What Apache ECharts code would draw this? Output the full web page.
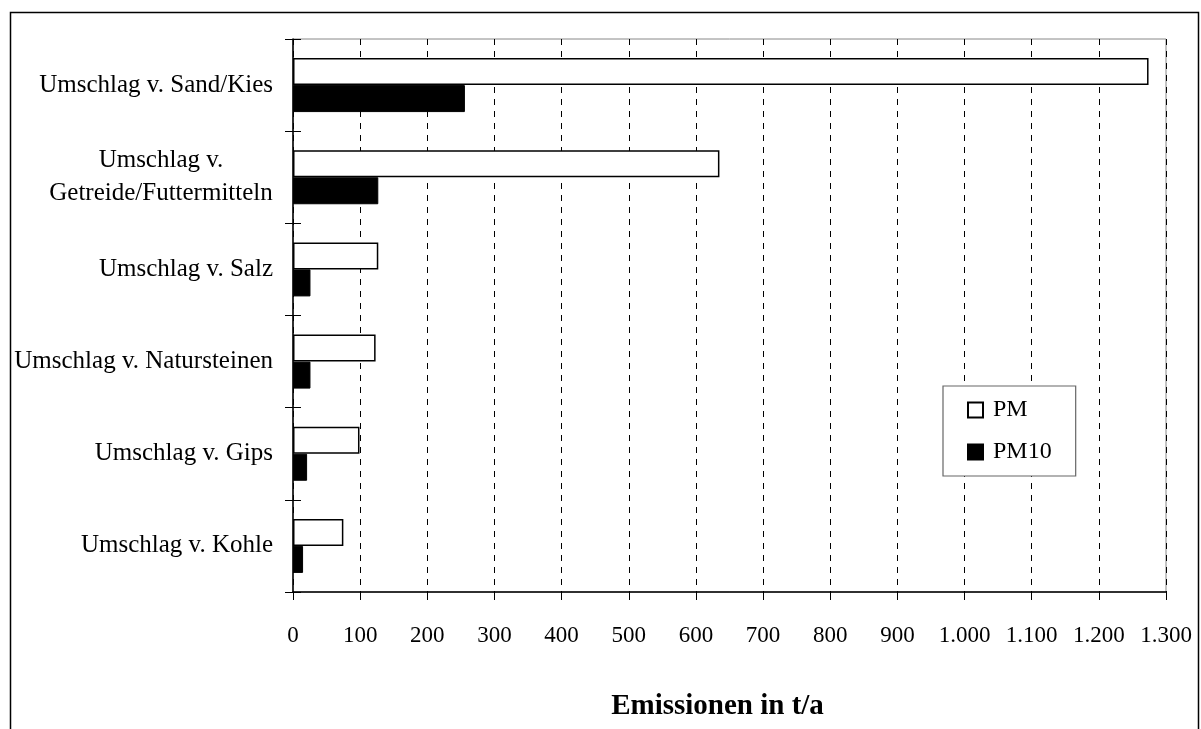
<!DOCTYPE html>
<html>
<head>
<meta charset="utf-8">
<script src="https://cdn.jsdelivr.net/npm/echarts@6/dist/echarts.min.js"></script>
<style>html,body{margin:0;padding:0;background:#fff}#c{width:1201px;height:729px}</style>
</head>
<body>
<div id="c"></div>
<script>
const categories = ['Umschlag v. Sand/Kies', 'Umschlag v.\nGetreide/Futtermitteln', 'Umschlag v. Salz', 'Umschlag v. Natursteinen', 'Umschlag v. Gips', 'Umschlag v. Kohle'];
const seriesNames = ['PM', 'PM10'];
const pmValues = [1274, 635, 127, 123, 99, 75];
const pm10Values = [256, 127, 26, 26, 21, 15];
const xTicks = {min: 0, max: 1300, interval: 100};
const axisTitle = 'Emissionen in t/a';

const FONT = "'Liberation Serif', 'Times New Roman', serif";
function deFmt(v) {
  if (v >= 1000) return Math.floor(v / 1000) + '.' + String(v % 1000).padStart(3, '0');
  return String(v);
}
const chart = echarts.init(document.getElementById('c'), null, {renderer: 'canvas'});
chart.setOption({
  animation: false,
  backgroundColor: '#fff',
  textStyle: {fontFamily: FONT, color: '#000'},
  graphic: [{
    type: 'rect', left: 8, top: 10, z: 100, silent: true,
    shape: {width: 1188, height: 740},
    style: {fill: 'none', stroke: '#000', lineWidth: 1.5}
  }],
  grid: {left: 293, right: 35, top: 39, bottom: 137, show: true, borderColor: '#888', borderWidth: 1, containLabel: false},
  legend: {
    orient: 'vertical', left: 943, top: 386,
    data: seriesNames,
    itemWidth: 15, itemHeight: 15, itemGap: 18,
    padding: [12, 24, 12, 24],
    borderColor: '#666', borderWidth: 1.2, backgroundColor: '#fff',
    textStyle: {fontFamily: FONT, fontSize: 24, color: '#000', padding: [0, 0, 0, 5]},
    icon: 'rect'
  },
  xAxis: {
    type: 'value', min: xTicks.min, max: xTicks.max, interval: xTicks.interval,
    name: axisTitle, nameLocation: 'middle', nameGap: 100,
    nameTextStyle: {fontFamily: FONT, fontSize: 29, fontWeight: 'bold', color: '#000', padding: [0, 24, 0, 0]},
    axisLine: {show: true, lineStyle: {color: '#000', width: 1.5}},
    axisTick: {show: true, length: 8, lineStyle: {color: '#000'}},
    axisLabel: {fontFamily: FONT, fontSize: 23, color: '#000', margin: 32, formatter: deFmt},
    splitLine: {show: true, lineStyle: {color: '#000', type: [6, 6], width: 1}}
  },
  yAxis: [{
    type: 'category', inverse: true, data: categories,
    axisLine: {show: true, lineStyle: {color: '#000', width: 1.5}},
    axisTick: {show: true, length: 8, lineStyle: {color: '#000'}},
    axisLabel: {
      fontFamily: FONT, fontSize: 25, color: '#000', margin: 20, lineHeight: 33,
      formatter: function (v) {
        if (v.indexOf('\n') >= 0) return v.split('\n').map(s => '{c|' + s + '}').join('\n');
        return v;
      },
      rich: {c: {fontFamily: FONT, fontSize: 25, color: '#000', width: 224, align: 'center', lineHeight: 33}}
    },
    splitLine: {show: false}
  }, {
    type: 'category', inverse: true, data: categories, position: 'left', offset: 0,
    axisLine: {show: false},
    axisTick: {show: true, inside: true, length: 8, lineStyle: {color: '#000'}},
    axisLabel: {show: false},
    splitLine: {show: false}
  }],
  series: [{
    name: seriesNames[0], type: 'bar', data: pmValues, yAxisIndex: 0,
    barWidth: 27, barGap: '0%',
    itemStyle: {color: '#fff', borderColor: '#000', borderWidth: 1.5}
  }, {
    name: seriesNames[1], type: 'bar', data: pm10Values, yAxisIndex: 0,
    barWidth: 27, barGap: '0%',
    itemStyle: {color: '#000', borderColor: '#000', borderWidth: 1}
  }]
});
</script>
</body>
</html>
